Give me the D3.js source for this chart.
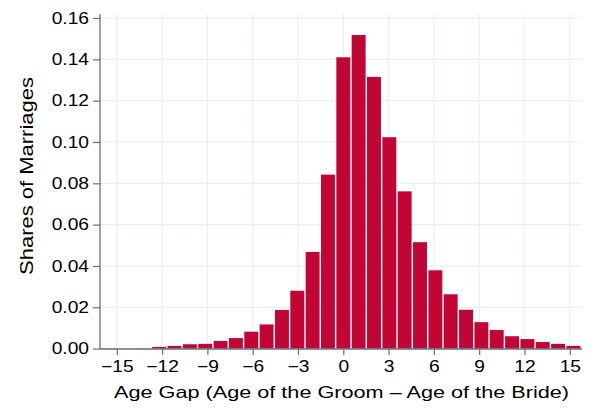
<!DOCTYPE html>
<html>
<head>
<meta charset="utf-8">
<script src="https://cdn.jsdelivr.net/npm/d3@7"></script>
<style>
  html, body { margin: 0; padding: 0; background: #ffffff; }
  svg { display: block; }
  text { font-family: "Liberation Sans", Arial, Helvetica, sans-serif; fill: #000; }
</style>
</head>
<body>
<svg id="chart" width="597" height="411"></svg>
<script>
// ---- data ----
const ageGaps = [-15, -14, -13, -12, -11, -10, -9, -8, -7, -6, -5, -4, -3, -2, -1,
                 0, 1, 2, 3, 4, 5, 6, 7, 8, 9, 10, 11, 12, 13, 14, 15];
const shares = [0.0001, 0.0000, 0.0001, 0.0008, 0.0013, 0.0021, 0.0023, 0.0037, 0.0051, 0.0082,
                0.0117, 0.0187, 0.0280, 0.0468, 0.0842,
                0.1410, 0.1518, 0.1315, 0.1023, 0.0761, 0.0515, 0.0379, 0.0263, 0.0188,
                0.0128, 0.0090, 0.0060, 0.0046, 0.0032, 0.0023, 0.0013];
const xTicks = [-15, -12, -9, -6, -3, 0, 3, 6, 9, 12, 15];
const yTicks = [0, 0.02, 0.04, 0.06, 0.08, 0.10, 0.12, 0.14, 0.16];
const binWidth = 1.016;
const xTitle = "Age Gap (Age of the Groom \u2013 Age of the Bride)";
const yTitle = "Shares of Marriages";

// ---- layout ----
const svg = d3.select("#chart");
const plot = { left: 100, right: 582, top: 14, bottom: 349 };
const x = d3.scaleLinear().domain([-15, 15]).range([116.8, 569.8]);
const y = d3.scaleLinear().domain([0, 0.16]).range([348.6, 18]);
const barColor = "#c10534";
const gridColor = "#e8f0f2";
const axisColor = "#6e6e6e";
const sx = 1.2;

svg.append("rect").attr("width", 597).attr("height", 411).attr("fill", "#fff");

// gridlines
const grid = svg.append("g");
grid.selectAll("line.h").data(yTicks.filter(d => d > 0)).join("line")
  .attr("x1", plot.left).attr("x2", plot.right)
  .attr("y1", d => y(d)).attr("y2", d => y(d))
  .attr("stroke", gridColor).attr("stroke-width", 1.2);
grid.selectAll("line.v").data(xTicks).join("line")
  .attr("x1", d => x(d)).attr("x2", d => x(d))
  .attr("y1", plot.top).attr("y2", plot.bottom)
  .attr("stroke", gridColor).attr("stroke-width", 1.2);

// bars
const inset = 0.7;
svg.append("g").selectAll("rect").data(ageGaps.map((g, i) => ({ g, v: shares[i] })))
  .join("rect")
  .attr("x", d => x(d.g * binWidth - binWidth / 2) + inset)
  .attr("width", d => x(d.g * binWidth + binWidth / 2) - x(d.g * binWidth - binWidth / 2) - 2 * inset)
  .attr("y", d => y(d.v))
  .attr("height", d => y(0) - y(d.v))
  .attr("fill", barColor);

// x axis
const xAxis = svg.append("g").attr("transform", `translate(0,${plot.bottom})`)
  .call(d3.axisBottom(x).tickValues(xTicks).tickSize(6).tickPadding(5.6)
    .tickFormat(d => d < 0 ? "\u2212" + Math.abs(d) : String(d)));
xAxis.select(".domain").remove();
xAxis.append("line").attr("x1", plot.left).attr("x2", plot.right).attr("y1", 0).attr("y2", 0)
  .attr("stroke", axisColor).attr("stroke-width", 1.3);
xAxis.selectAll(".tick line").attr("stroke", axisColor).attr("stroke-width", 1.2);
xAxis.selectAll(".tick text")
  .attr("font-size", 16).attr("fill", "#000")
  .attr("font-family", "Liberation Sans, Arial, sans-serif")
  .attr("transform", `scale(${sx},1)`);

// y axis
const yAxis = svg.append("g").attr("transform", `translate(${plot.left},0)`)
  .call(d3.axisLeft(y).tickValues(yTicks).tickSize(7).tickPadding(4)
    .tickFormat(d3.format(".2f")));
yAxis.select(".domain").remove();
yAxis.append("line").attr("x1", 0).attr("x2", 0).attr("y1", plot.top).attr("y2", plot.bottom)
  .attr("stroke", axisColor).attr("stroke-width", 1.3);
yAxis.selectAll(".tick line").attr("stroke", axisColor).attr("stroke-width", 1.2);
yAxis.selectAll(".tick text")
  .attr("font-size", 16).attr("fill", "#000")
  .attr("font-family", "Liberation Sans, Arial, sans-serif")
  .attr("x", -11 / sx)
  .attr("transform", `scale(${sx},1)`);

// titles
svg.append("text")
  .attr("x", 341.5).attr("y", 398)
  .attr("text-anchor", "middle")
  .attr("font-size", 16.5)
  .attr("textLength", 455).attr("lengthAdjust", "spacingAndGlyphs")
  .text(xTitle);

svg.append("text")
  .attr("transform", "translate(33,176) rotate(-90)")
  .attr("text-anchor", "middle")
  .attr("font-size", 17.5)
  .attr("textLength", 198).attr("lengthAdjust", "spacingAndGlyphs")
  .text(yTitle);
</script>
</body>
</html>
